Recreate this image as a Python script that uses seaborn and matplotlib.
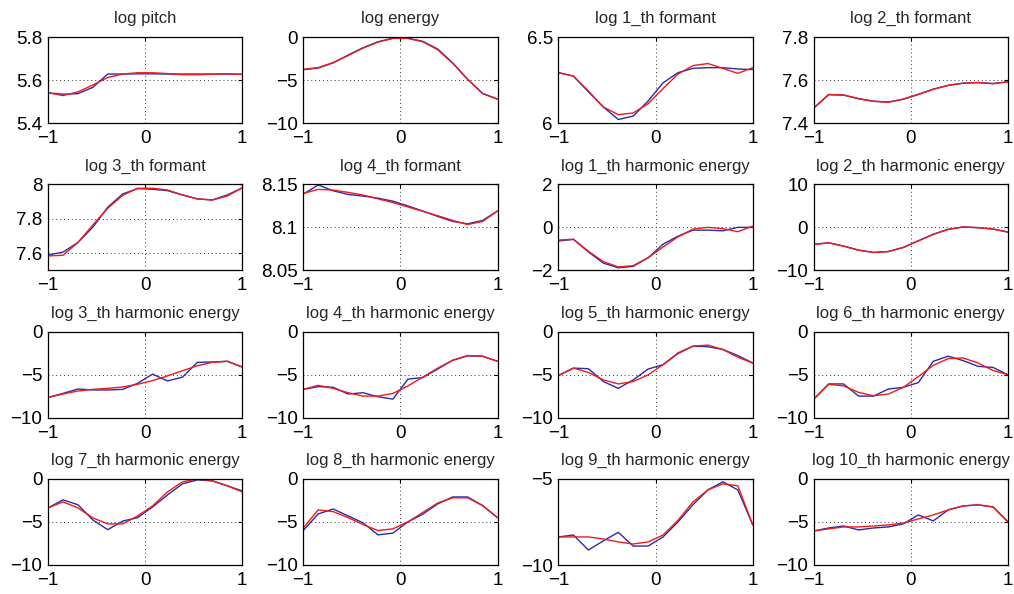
import numpy as np
import matplotlib
matplotlib.use("Agg")
import matplotlib.pyplot as plt
import seaborn as sns

# 14 frames, normalised time axis
x = np.linspace(-1, 1, 14)

titles = ['log pitch', 'log energy', 'log 1_th formant', 'log 2_th formant',
          'log 3_th formant', 'log 4_th formant', 'log 1_th harmonic energy', 'log 2_th harmonic energy',
          'log 3_th harmonic energy', 'log 4_th harmonic energy', 'log 5_th harmonic energy',
          'log 6_th harmonic energy', 'log 7_th harmonic energy', 'log 8_th harmonic energy',
          'log 9_th harmonic energy', 'log 10_th harmonic energy']

y_limits = [(5.4, 5.8), (-10, 0), (6, 6.5), (7.4, 7.8),
            (7.5, 8), (8.05, 8.15), (-2, 2), (-10, 10),
            (-10, 0), (-10, 0), (-10, 0), (-10, 0),
            (-10, 0), (-10, 0), (-10, -5), (-10, 0)]

y_ticks = [[5.4, 5.6, 5.8], [-10, -5, 0], [6, 6.5], [7.4, 7.6, 7.8],
           [7.6, 7.8, 8], [8.05, 8.1, 8.15], [-2, 0, 2], [-10, 0, 10],
           [-10, -5, 0], [-10, -5, 0], [-10, -5, 0], [-10, -5, 0],
           [-10, -5, 0], [-10, -5, 0], [-10, -5], [-10, -5, 0]]

y_tick_labels = [['5.4', '5.6', '5.8'], ['\u221210', '\u22125', '0'], ['6', '6.5'], ['7.4', '7.6', '7.8'],
                 ['7.6', '7.8', '8'], ['8.05', '8.1', '8.15'], ['\u22122', '0', '2'], ['\u221210', '0', '10'],
                 ['\u221210', '\u22125', '0'], ['\u221210', '\u22125', '0'], ['\u221210', '\u22125', '0'],
                 ['\u221210', '\u22125', '0'], ['\u221210', '\u22125', '0'], ['\u221210', '\u22125', '0'],
                 ['\u221210', '\u22125'], ['\u221210', '\u22125', '0']]

# original trajectories (blue)
original = [
    [5.541, 5.534, 5.537, 5.566, 5.628, 5.628, 5.629, 5.629, 5.628, 5.628, 5.628, 5.628, 5.628, 5.627],
    [-3.8, -3.6, -3.0, -2.1, -1.25, -0.55, -0.15, -0.15, -0.5, -1.4, -3.0, -4.9, -6.55, -7.2],
    [6.293, 6.273, 6.182, 6.094, 6.021, 6.041, 6.129, 6.234, 6.293, 6.318, 6.322, 6.322, 6.314, 6.311],
    [7.470, 7.533, 7.530, 7.514, 7.502, 7.498, 7.511, 7.533, 7.558, 7.575, 7.586, 7.588, 7.584, 7.592],
    [7.590, 7.606, 7.662, 7.751, 7.867, 7.944, 7.975, 7.971, 7.963, 7.938, 7.915, 7.909, 7.938, 7.979],
    [8.1386, 8.1492, 8.1425, 8.1382, 8.1363, 8.1339, 8.1304, 8.1249, 8.119, 8.1127, 8.1069, 8.1041,
     8.108, 8.119],
    [-0.63, -0.56, -1.14, -1.66, -1.88, -1.81, -1.41, -0.78, -0.41, -0.13, -0.13, -0.16, 0.0, 0.0],
    [-3.97, -3.58, -4.36, -5.29, -5.84, -5.6, -4.67, -3.11, -1.63, -0.47, 0.08, -0.08, -0.39, -1.09],
    [-7.65, -7.18, -6.67, -6.78, -6.78, -6.71, -6.0, -4.94, -5.73, -5.29, -3.57, -3.53, -3.45, -4.12],
    [-6.71, -6.39, -6.47, -7.25, -7.1, -7.57, -7.84, -5.53, -5.33, -4.35, -3.33, -2.82, -2.86, -3.45],
    [-5.1, -4.24, -4.31, -5.8, -6.59, -5.61, -4.35, -3.84, -2.55, -1.69, -1.76, -2.08, -2.78, -3.65],
    [-7.84, -6.08, -6.08, -7.49, -7.49, -6.67, -6.47, -5.92, -3.45, -2.86, -3.37, -4.04, -4.16, -5.02],
    [-3.37, -2.44, -3.0, -4.77, -5.9, -4.9, -4.5, -3.26, -1.86, -0.58, -0.12, -0.23, -0.81, -1.4],
    [-6.0, -4.07, -3.5, -4.3, -5.1, -6.5, -6.3, -5.0, -4.1, -2.9, -2.1, -2.1, -3.1, -4.5],
    [-8.37, -8.26, -9.13, -8.6, -8.1, -8.9, -8.9, -8.37, -7.5, -6.5, -5.64, -5.17, -5.64, -7.67],
    [-6.05, -5.7, -5.47, -5.93, -5.7, -5.58, -5.23, -4.19, -4.88, -3.6, -3.14, -3.02, -3.26, -5.0],
]

# reconstructed trajectories (red)
reconstructed = [
    [5.541, 5.528, 5.545, 5.577, 5.612, 5.628, 5.634, 5.634, 5.630, 5.625, 5.625, 5.627, 5.629, 5.626],
    [-3.75, -3.55, -2.97, -2.15, -1.29, -0.59, -0.16, -0.16, -0.55, -1.48, -3.05, -4.92, -6.56, -7.23],
    [6.293, 6.273, 6.186, 6.094, 6.049, 6.059, 6.113, 6.201, 6.285, 6.334, 6.346, 6.318, 6.289, 6.322],
    [7.471, 7.532, 7.531, 7.513, 7.501, 7.497, 7.512, 7.534, 7.557, 7.576, 7.585, 7.589, 7.583, 7.592],
    [7.584, 7.588, 7.662, 7.764, 7.861, 7.936, 7.977, 7.977, 7.967, 7.938, 7.915, 7.909, 7.932, 7.979],
    [8.1394, 8.1441, 8.1433, 8.1406, 8.1375, 8.1331, 8.1288, 8.1237, 8.1186, 8.1135, 8.108, 8.1033,
     8.1069, 8.119],
    [-0.59, -0.55, -1.11, -1.59, -1.84, -1.78, -1.41, -0.91, -0.44, -0.08, 0.0, -0.06, -0.2, 0.06],
    [-3.95, -3.6, -4.34, -5.3, -5.82, -5.62, -4.65, -3.15, -1.6, -0.45, 0.1, -0.06, -0.4, -1.1],
    [-7.65, -7.25, -6.9, -6.71, -6.59, -6.43, -6.12, -5.69, -5.14, -4.55, -3.96, -3.57, -3.45, -4.12],
    [-6.71, -6.24, -6.59, -7.1, -7.49, -7.49, -7.18, -6.31, -5.29, -4.24, -3.33, -2.78, -2.86, -3.45],
    [-5.1, -4.24, -4.75, -5.61, -6.08, -5.8, -5.02, -3.84, -2.47, -1.69, -1.57, -2.08, -2.98, -3.65],
    [-7.84, -6.12, -6.31, -7.06, -7.45, -7.25, -6.47, -5.22, -3.92, -3.14, -3.06, -3.65, -4.51, -5.02],
    [-3.37, -2.67, -3.37, -4.53, -5.23, -5.23, -4.3, -3.14, -1.51, -0.35, 0.0, -0.23, -0.81, -1.51],
    [-5.7, -3.6, -3.8, -4.5, -5.3, -6.0, -5.8, -5.0, -3.9, -2.8, -2.2, -2.2, -3.1, -4.5],
    [-8.37, -8.37, -8.37, -8.49, -8.66, -8.78, -8.66, -8.26, -7.4, -6.34, -5.64, -5.29, -5.4, -7.67],
    [-6.05, -5.81, -5.58, -5.58, -5.47, -5.35, -5.12, -4.65, -4.19, -3.6, -3.14, -3.02, -3.26, -5.0],
]


def main():
    sns.set_style("white")
    plt.rcParams['font.family'] = ['Liberation Sans', 'DejaVu Sans']

    fig, axes = plt.subplots(4, 4, figsize=(10.14, 5.94), dpi=100)
    fig.subplots_adjust(left=48 / 1014, right=1008 / 1014, top=1 - 37 / 594, bottom=1 - 565 / 594,
                        wspace=0.314, hspace=0.71)

    for i, ax in enumerate(axes.flat):
        sns.lineplot(x=x, y=original[i], ax=ax, color='#2b2ba6', linewidth=1.0, estimator=None, sort=False)
        sns.lineplot(x=x, y=reconstructed[i], ax=ax, color='#f01a1a', linewidth=1.0, estimator=None,
                     sort=False)
        ax.set_xlim(-1, 1)
        ax.set_ylim(*y_limits[i])
        ax.set_xticks([-1, 0, 1])
        ax.set_xticklabels(['\u22121', '0', '1'])
        ax.set_yticks(y_ticks[i])
        ax.set_yticklabels(y_tick_labels[i])
        ax.grid(True, color='#333333', linestyle=(0, (1, 3)), linewidth=0.7)
        ax.tick_params(direction='in', length=3, width=0.8, top=True, right=True, labelsize=13.5,
                       colors='black', pad=4)
        ax.tick_params(axis='x', pad=5)
        for s in ax.spines.values():
            s.set_color('black')
            s.set_linewidth(0.9)
        ax.set_title(titles[i], fontsize=12, pad=10)

    fig.savefig('out.png', dpi=100)


if __name__ == '__main__':
    main()
